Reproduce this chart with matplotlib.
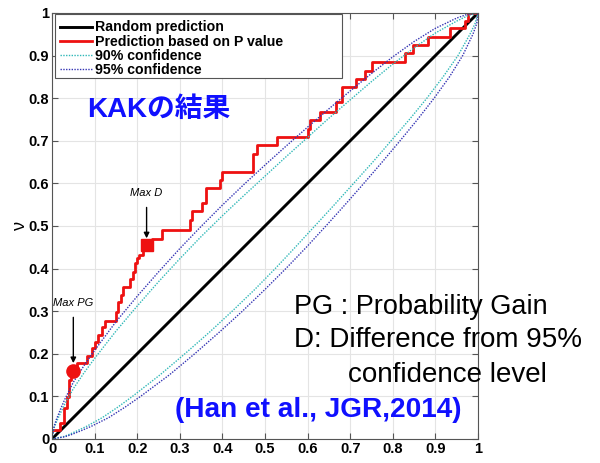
import numpy as np
import matplotlib
matplotlib.use('Agg')
import matplotlib.pyplot as plt
from matplotlib.patches import Rectangle

plt.rcParams['font.family'] = ['Liberation Sans', 'Noto Sans CJK JP', 'DejaVu Sans']

# step curve: prediction based on P value (steps-post)
pred_x = [0.000, 0.019, 0.027, 0.034, 0.040, 0.045, 0.050, 0.058, 0.081, 0.093,
          0.101, 0.109, 0.117, 0.124, 0.150, 0.156, 0.161, 0.167, 0.183, 0.189,
          0.195, 0.200, 0.205, 0.213, 0.218, 0.234, 0.257, 0.324, 0.328, 0.351,
          0.361, 0.394, 0.400, 0.472, 0.480, 0.527, 0.601, 0.606, 0.629, 0.667,
          0.681, 0.714, 0.735, 0.751, 0.829, 0.848, 0.883, 0.934, 0.969, 0.977, 1.000]
pred_y = [0.022, 0.038, 0.072, 0.099, 0.138, 0.150, 0.160, 0.178, 0.195, 0.213,
          0.228, 0.244, 0.262, 0.278, 0.299, 0.322, 0.338, 0.356, 0.375, 0.393,
          0.412, 0.425, 0.432, 0.444, 0.455, 0.469, 0.491, 0.514, 0.534, 0.554,
          0.589, 0.608, 0.627, 0.669, 0.690, 0.709, 0.727, 0.749, 0.768, 0.790,
          0.826, 0.845, 0.864, 0.885, 0.906, 0.925, 0.944, 0.965, 0.980, 1.000, 1.000]

# confidence bands
band_x = [0, .005, .01, .02, .03, .05, .075, .1, .15, .2, .25, .3, .35, .4, .45,
          .5, .55, .6, .65, .7, .75, .8, .85, .9, .95, .975, 1]
up95 = [0, .030, .045, .070, .093, .133, .172, .208, .275, .335, .392, .447, .499,
        .549, .597, .643, .688, .732, .775, .817, .858, .897, .933, .964, .988, .997, 1]
up90 = [0, .026, .039, .061, .082, .118, .155, .189, .253, .312, .369, .423, .475,
        .524, .571, .617, .663, .708, .753, .796, .839, .880, .918, .953, .981, .993, 1]
# lower limits: same curves mirrored about the diagonal
lo95_x, lo95_y = up95, band_x
lo90_x, lo90_y = up90, band_x

max_pg = (0.05, 0.16)
max_d = (0.222, 0.455)

fig = plt.figure(figsize=(6, 4.63), dpi=100)
ax = fig.add_axes([0.0867, 0.052, 0.71, 0.92])

ax.plot([0, 1], [0, 1], color='black', lw=2.1, label='Random prediction')
ax.plot(pred_x, pred_y, color='#ee1111', lw=2, drawstyle='steps-post',
        label='Prediction based on P value')
ax.plot(band_x + lo90_x[::-1], up90 + lo90_y[::-1], color='#30b8b8',
        lw=1, ls=(0, (1, 1)), label='90% confidence')
ax.plot(band_x + lo95_x[::-1], up95 + lo95_y[::-1], color='#3434b4',
        lw=1, ls=(0, (1, 1)), label='95% confidence')

ax.plot(*max_pg, 'o', color='#ee1111', ms=9.5, zorder=5)
ax.plot(*max_d, 's', color='#ee1111', ms=8, zorder=5)

ax.annotate('Max PG', xy=(max_pg[0], max_pg[1] + 0.018), xytext=(max_pg[0], 0.32),
            ha='center', va='center', fontsize=8, style='italic',
            arrowprops=dict(arrowstyle='-|>', color='black', lw=1, mutation_scale=8,
                            shrinkA=5, shrinkB=0))
ax.annotate('Max D', xy=(max_d[0], max_d[1] + 0.016), xytext=(max_d[0], 0.578),
            ha='center', va='center', fontsize=8, style='italic',
            arrowprops=dict(arrowstyle='-|>', color='black', lw=1, mutation_scale=8,
                            shrinkA=5, shrinkB=0))

ax.set_xlim(0, 1)
ax.set_ylim(0, 1)
ticks = np.round(np.arange(0, 1.01, 0.1), 1)
labels = ['0'] + ['%.1f' % t for t in ticks[1:-1]] + ['1']
ax.set_xticks(ticks)
ax.set_yticks(ticks)
ax.set_xticklabels(labels, fontweight='bold')
ax.set_yticklabels(labels, fontweight='bold')
ax.tick_params(direction='in', top=True, right=True, labelsize=10.5, length=4,
               color='#555555', pad=2)
for s in ax.spines.values():
    s.set_color('#555555')
ax.grid(True, color='#e4e4e4', lw=0.8)
ax.set_axisbelow(True)
ax.set_ylabel('ν', fontsize=13, labelpad=0)

# legend box (MATLAB style, wider than the text)
ax.add_patch(Rectangle((0.007, 0.848), 0.674, 0.149, transform=ax.transAxes,
                       facecolor='white', edgecolor='#555555', lw=0.8, zorder=6))
leg = ax.legend(loc='upper left', bbox_to_anchor=(0.012, 0.989), borderaxespad=0,
                fontsize=10.2, frameon=False, handlelength=2.25, borderpad=0.2,
                labelspacing=0.02, handletextpad=0.25)
leg.set_zorder(7)
for t in leg.get_texts():
    t.set_fontweight('bold')

ax.text(0.082, 0.772, 'KAKの結果', color='#1010ff', fontsize=20, fontweight='bold',
        va='center', ha='left')
fig.text(175 / 600, 1 - 410 / 463, '(Han et al., JGR,2014)', color='#1010ff',
         fontsize=20.2, fontweight='bold', va='center', ha='left')
fig.text(294 / 600, 1 - 307 / 463, 'PG : Probability Gain', fontsize=19.5, va='center')
fig.text(294 / 600, 1 - 340 / 463, 'D: Difference from 95%', fontsize=20, va='center')
fig.text(348 / 600, 1 - 375 / 463, 'confidence level', fontsize=20, va='center')

fig.savefig('out.png', dpi=100)
